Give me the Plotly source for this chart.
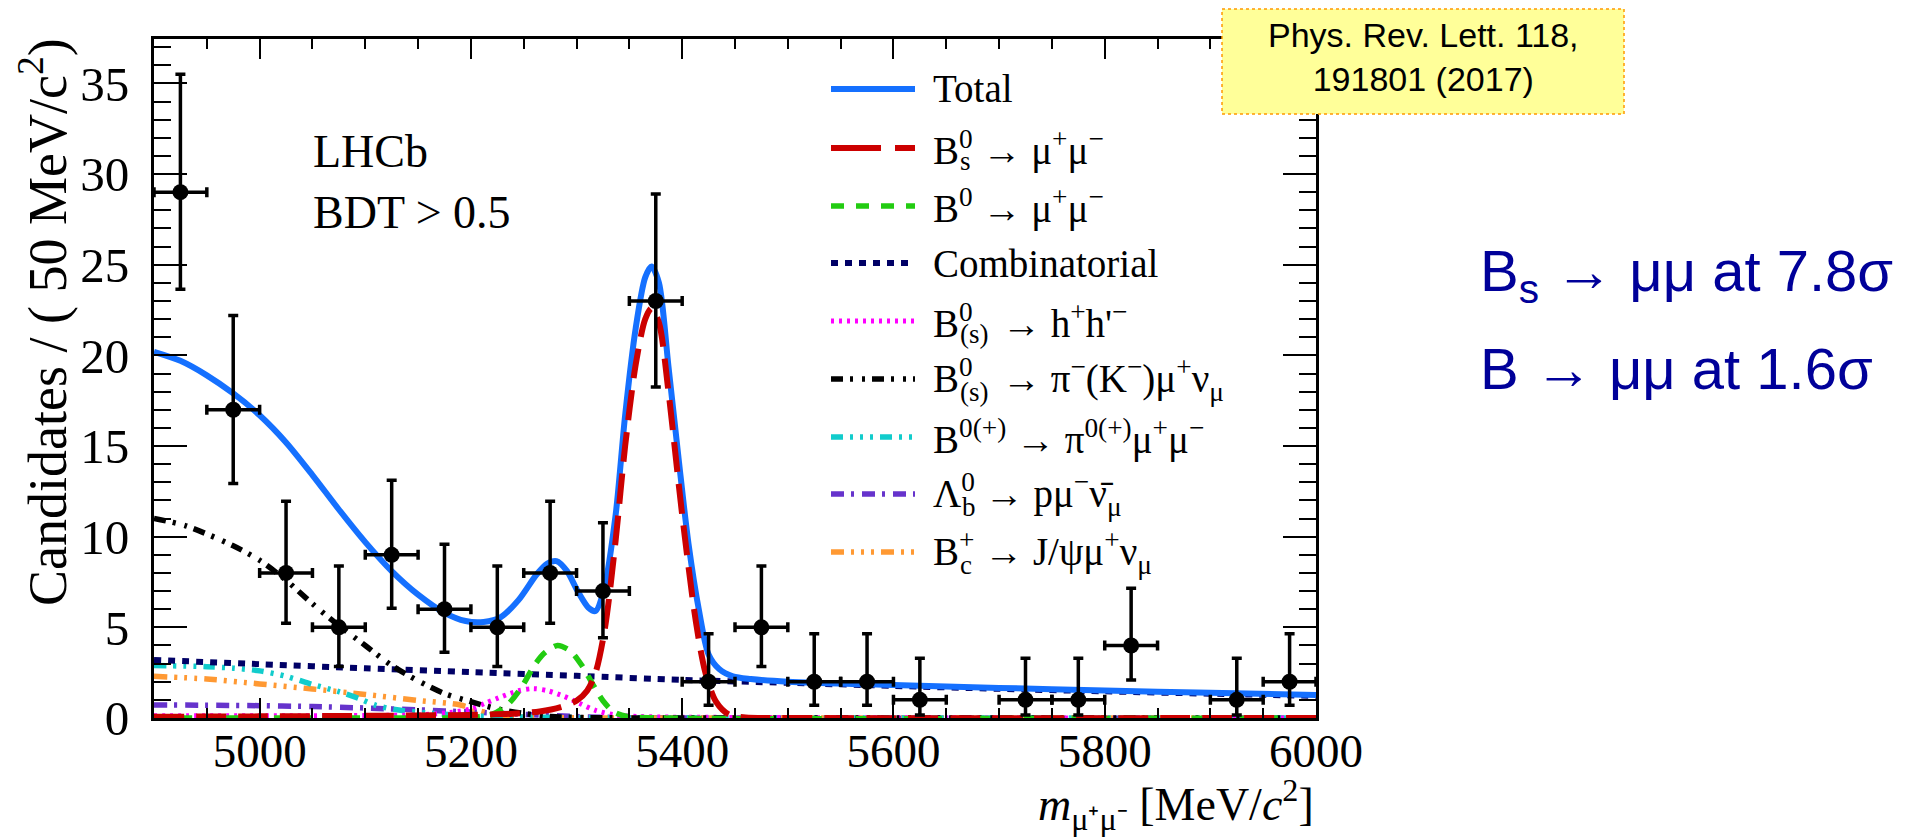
import plotly.graph_objects as go

# ---------------- data ----------------
bin_centers = [4925, 4975, 5025, 5075, 5125, 5175, 5225, 5275, 5325, 5375,
               5425, 5475, 5525, 5575, 5625, 5725, 5775, 5825, 5925, 5975]
counts      = [29, 17, 8, 5, 9, 6, 5, 8, 7, 23, 2, 5, 2, 2, 1, 1, 1, 4, 1, 2]
err_lo_edge = [23.65, 12.93, 5.23, 2.84, 6.06, 3.62, 2.84, 5.23, 4.42, 18.25,
               0.71, 2.84, 0.71, 0.71, 0.17, 0.17, 0.17, 2.09, 0.17, 0.71]
err_hi_edge = [35.5, 22.2, 11.95, 8.38, 13.11, 9.58, 8.38, 11.95, 10.77, 28.9,
               4.64, 8.38, 4.64, 4.64, 3.30, 3.30, 3.30, 7.16, 3.30, 4.64]
bin_half_width = 25

total_x = [4900, 4925, 4950, 4975, 5000, 5025, 5050, 5075, 5100, 5125, 5150, 5175,
           5195, 5212, 5228, 5245, 5262, 5272, 5281, 5291, 5301, 5311, 5318, 5326,
           5337, 5346, 5356, 5365, 5371, 5378, 5387, 5397, 5406, 5416, 5425, 5435,
           5448, 5465, 5500, 5600, 5700, 5800, 5900, 6000]
total_y = [20.2, 19.7, 18.9, 17.9, 16.7, 15.2, 13.4, 11.5, 9.7, 8.1, 6.8, 5.8,
           5.35, 5.3, 5.55, 6.5, 7.9, 8.5, 8.65, 8.1, 7.0, 6.1, 5.9, 7.1,
           11.2, 16.7, 21.5, 24.3, 24.9, 24.0, 19.4, 14.1, 9.6, 5.9, 3.5, 2.7,
           2.3, 2.15, 2.0, 1.82, 1.66, 1.52, 1.39, 1.27]

bs_x = [4900, 5000, 5100, 5200, 5240, 5265, 5285, 5300, 5310, 5318, 5327, 5337,
        5346, 5356, 5365, 5371, 5378, 5387, 5400, 5413, 5422, 5432, 5444, 5460,
        5500, 6000]
bs_y = [0.07, 0.09, 0.12, 0.17, 0.24, 0.36, 0.6, 0.95, 1.5, 2.5, 5.0, 9.8,
        15.0, 19.5, 22.0, 22.6, 21.8, 18.0, 11.2, 5.3, 2.5, 0.9, 0.2, 0.03,
        0.0, 0.0]

b0_x = [4900, 5150, 5200, 5220, 5235, 5248, 5260, 5270, 5282, 5294, 5305, 5315,
        5325, 5335, 5348, 5380, 6000]
b0_y = [0.0, 0.0, 0.03, 0.2, 0.75, 1.7, 2.9, 3.6, 4.0, 3.7, 2.9, 1.9,
        0.95, 0.35, 0.08, 0.0, 0.0]

comb_x = [4900, 5000, 5100, 5200, 5300, 5400, 5500, 5600, 5700, 5800, 5900, 6000]
comb_y = [3.2, 2.97, 2.74, 2.53, 2.33, 2.1, 1.94, 1.77, 1.61, 1.47, 1.34, 1.22]

hh_x = [4900, 5000, 5100, 5150, 5180, 5200, 5215, 5230, 5245, 5259, 5273, 5288,
        5303, 5318, 5335, 5360, 5450, 6000]
hh_y = [0.12, 0.12, 0.14, 0.17, 0.3, 0.5, 0.85, 1.2, 1.5, 1.62, 1.5, 1.2,
        0.8, 0.42, 0.18, 0.08, 0.03, 0.0]

pimunu_x = [4900, 4930, 4975, 5000, 5025, 5050, 5075, 5100, 5125, 5150, 5175,
            5200, 5225, 5250, 5275, 5300, 5400, 6000]
pimunu_y = [11.0, 10.6, 9.5, 8.7, 7.6, 6.3, 5.1, 4.0, 2.9, 2.05, 1.35,
            0.9, 0.5, 0.25, 0.09, 0.03, 0.0, 0.0]

pimumu_x = [4900, 4950, 4975, 5000, 5025, 5050, 5075, 5095, 5110, 5130, 5160,
            5200, 5250, 5300, 6000]
pimumu_y = [2.9, 2.83, 2.75, 2.6, 2.3, 1.85, 1.45, 1.05, 0.7, 0.45, 0.27,
            0.12, 0.05, 0.02, 0.0]

lb_x = [4900, 5000, 5050, 5100, 5150, 5200, 5250, 5300, 5350, 6000]
lb_y = [0.72, 0.68, 0.63, 0.55, 0.45, 0.33, 0.2, 0.08, 0.02, 0.0]

bc_x = [4900, 4950, 5000, 5050, 5100, 5150, 5190, 5205, 5220, 5240, 5270, 5300, 6000]
bc_y = [2.3, 2.15, 1.88, 1.6, 1.3, 0.97, 0.72, 0.45, 0.22, 0.08, 0.03, 0.01, 0.0]

# legend: (main text, stacked subscript or None)
legend_labels = [
    ("Total", None),
    ("B<sup>0</sup> → μ<sup>+</sup>μ<sup>−</sup>", "s"),
    ("B<sup>0</sup> → μ<sup>+</sup>μ<sup>−</sup>", None),
    ("Combinatorial", None),
    ("B<sup>0</sup>\u2002 → h<sup>+</sup>h'<sup>−</sup>", "(s)"),
    ("B<sup>0</sup>\u2002 → π<sup>−</sup>(K<sup>−</sup>)μ<sup>+</sup>ν<sub>μ</sub>", "(s)"),
    ("B<sup>0(+)</sup> → π<sup>0(+)</sup>μ<sup>+</sup>μ<sup>−</sup>", None),
    ("Λ<sup>0</sup> → pμ<sup>−</sup>ν̄<sub>μ</sub>", "b"),
    ("B<sup>+</sup> → J/ψμ<sup>+</sup>ν<sub>μ</sub>", "c"),
]

# ---------------- styling ----------------
W, H = 1905, 837
L, R, T, B = 146, 1308, 31, 710
PW, PH = R - L, B - T
YMAX = 37.45
SERIF = "Liberation Serif"
SANS = "Liberation Sans"

def px(x):
    return (x - L) / PW

def py(y):
    return (B - y) / PH

styles = {
    "total":  dict(color="#1570ff", dash="solid", width=6),
    "bs":     dict(color="#cc0000", dash="30px,12px", width=6),
    "b0":     dict(color="#22cc11", dash="14px,10px", width=5.5),
    "comb":   dict(color="#000066", dash="7px,7px", width=6),
    "hh":     dict(color="#ff00ff", dash="3px,5px", width=5),
    "pimunu": dict(color="#000000", dash="12px,7px,3px,9px,3px,7px", width=5.5),
    "pimumu": dict(color="#11cccc", dash="12px,7px,3px,7px,3px,7px,3px,7px", width=5.5),
    "lb":     dict(color="#6633cc", dash="13px,7px,3px,8px", width=5.5),
    "bc":     dict(color="#ff9933", dash="13px,7px,3px,7px,3px,7px,3px,7px", width=5.5),
}
legend_dash = dict(styles)
legend_dash["bs"] = dict(styles["bs"], dash="50px,14px")
legend_dash["b0"] = dict(styles["b0"], dash="13px,12px")

fig = go.Figure()

def add_curve(x, y, key):
    s = styles[key]
    fig.add_trace(go.Scatter(
        x=x, y=y, mode="lines", showlegend=False, hoverinfo="skip",
        line=dict(color=s["color"], dash=s["dash"], width=s["width"],
                  shape="spline", smoothing=0.8)))

add_curve(lb_x, lb_y, "lb")
add_curve(bc_x, bc_y, "bc")
add_curve(pimumu_x, pimumu_y, "pimumu")
add_curve(hh_x, hh_y, "hh")
add_curve(comb_x, comb_y, "comb")
add_curve(pimunu_x, pimunu_y, "pimunu")
add_curve(b0_x, b0_y, "b0")
add_curve(total_x, total_y, "total")
add_curve(bs_x, bs_y, "bs")

fig.add_trace(go.Scatter(
    x=bin_centers, y=counts, mode="markers", showlegend=False,
    marker=dict(color="black", size=16),
    error_y=dict(type="data", symmetric=False,
                 array=[h - c for h, c in zip(err_hi_edge, counts)],
                 arrayminus=[c - l for c, l in zip(counts, err_lo_edge)],
                 color="black", thickness=3.5, width=5),
    error_x=dict(type="constant", value=bin_half_width,
                 color="black", thickness=3.5, width=5),
))

# ---------------- legend (drawn manually) ----------------
legend_keys = ["total", "bs", "b0", "comb", "hh", "pimunu", "pimumu", "lb", "bc"]
row_y = [81, 140, 198, 255, 313, 371, 429, 486, 544]
LEG_FONT = 39
base_width = {"s": 0.667, "(s)": 0.667, "b": 0.722, "c": 0.667}
shapes = []
annotations = []
TX = 923
for key, (label, sub), yy in zip(legend_keys, legend_labels, row_y):
    s = legend_dash[key]
    shapes.append(dict(type="line", xref="paper", yref="paper",
                       x0=px(823), x1=px(907), y0=py(yy), y1=py(yy),
                       line=dict(color=s["color"], width=s["width"],
                                 dash=s["dash"])))
    annotations.append(dict(text=label, xref="paper", yref="paper",
                            x=px(TX), y=py(yy), xanchor="left", yanchor="middle",
                            showarrow=False,
                            font=dict(family=SERIF, size=LEG_FONT, color="black")))
    if sub is not None:
        annotations.append(dict(text=sub, xref="paper", yref="paper",
                                x=px(TX + 1 + base_width[sub] * LEG_FONT), y=py(yy + 13),
                                xanchor="left", yanchor="middle", showarrow=False,
                                font=dict(family=SERIF, size=27, color="black")))

# texts inside the plot
annotations.append(dict(text="LHCb", xref="paper", yref="paper", x=px(303), y=py(143),
                        xanchor="left", yanchor="middle", showarrow=False,
                        font=dict(family=SERIF, size=46, color="black")))
annotations.append(dict(text="BDT > 0.5", xref="paper", yref="paper", x=px(303), y=py(205),
                        xanchor="left", yanchor="middle", showarrow=False,
                        font=dict(family=SERIF, size=46, color="black")))

# axis titles
annotations.append(dict(text="Candidates / ( 50 MeV/c<sup>2</sup>)", xref="paper", yref="paper",
                        x=px(35), y=py(28), xanchor="center", yanchor="top",
                        textangle=-90, showarrow=False,
                        font=dict(family=SERIF, size=54, color="black")))
annotations.append(dict(text="<i>m</i><sub>μ⁺μ⁻</sub> [MeV/<i>c</i><sup>2</sup>]",
                        xref="paper", yref="paper", x=1.0, y=py(796),
                        xanchor="right", yanchor="middle", showarrow=False,
                        font=dict(family=SERIF, size=46, color="black")))

# reference box
shapes.append(dict(type="rect", xref="paper", yref="paper",
                   x0=px(1214), x1=px(1616), y0=py(1), y1=py(106),
                   fillcolor="#ffff99", line=dict(color="#ff9900", width=1.5, dash="dot"),
                   layer="above"))
annotations.append(dict(text="Phys. Rev. Lett. 118,<br>191801 (2017)", xref="paper", yref="paper",
                        x=px(1415), y=py(49), xanchor="center", yanchor="middle",
                        showarrow=False, align="center",
                        font=dict(family=SANS, size=34, color="black")))

# significance texts
annotations.append(dict(text="B<sub>s</sub> → μμ at 7.8σ", xref="paper", yref="paper",
                        x=px(1470), y=py(267), xanchor="left", yanchor="middle",
                        showarrow=False, font=dict(family=SANS, size=58, color="#000099")))
annotations.append(dict(text="B → μμ at 1.6σ", xref="paper", yref="paper",
                        x=px(1470), y=py(360), xanchor="left", yanchor="middle",
                        showarrow=False, font=dict(family=SANS, size=58, color="#000099")))

axis_common = dict(showgrid=False, zeroline=False, showline=True, linecolor="black",
                   linewidth=3, mirror="allticks", ticks="inside", tickcolor="black",
                   tickwidth=2)

fig.update_layout(
    width=W, height=H, autosize=False,
    margin=dict(l=L, r=W - R, t=T, b=H - B),
    paper_bgcolor="white", plot_bgcolor="white",
    showlegend=False,
    shapes=shapes, annotations=annotations,
    xaxis=dict(range=[4900, 6000], dtick=200, tick0=5000, ticklen=20,
               minor=dict(dtick=50, ticklen=10, ticks="inside", tickcolor="black", tickwidth=2),
               tickfont=dict(family=SERIF, size=47, color="black"),
               ticklabelstandoff=-10, **axis_common),
    yaxis=dict(range=[0, YMAX], dtick=5, tick0=0, ticklen=33,
               minor=dict(dtick=1, ticklen=17, ticks="inside", tickcolor="black", tickwidth=2),
               tickfont=dict(family=SERIF, size=49, color="black"),
               ticklabelstandoff=12, **axis_common),
)

fig.write_html("out.html")
